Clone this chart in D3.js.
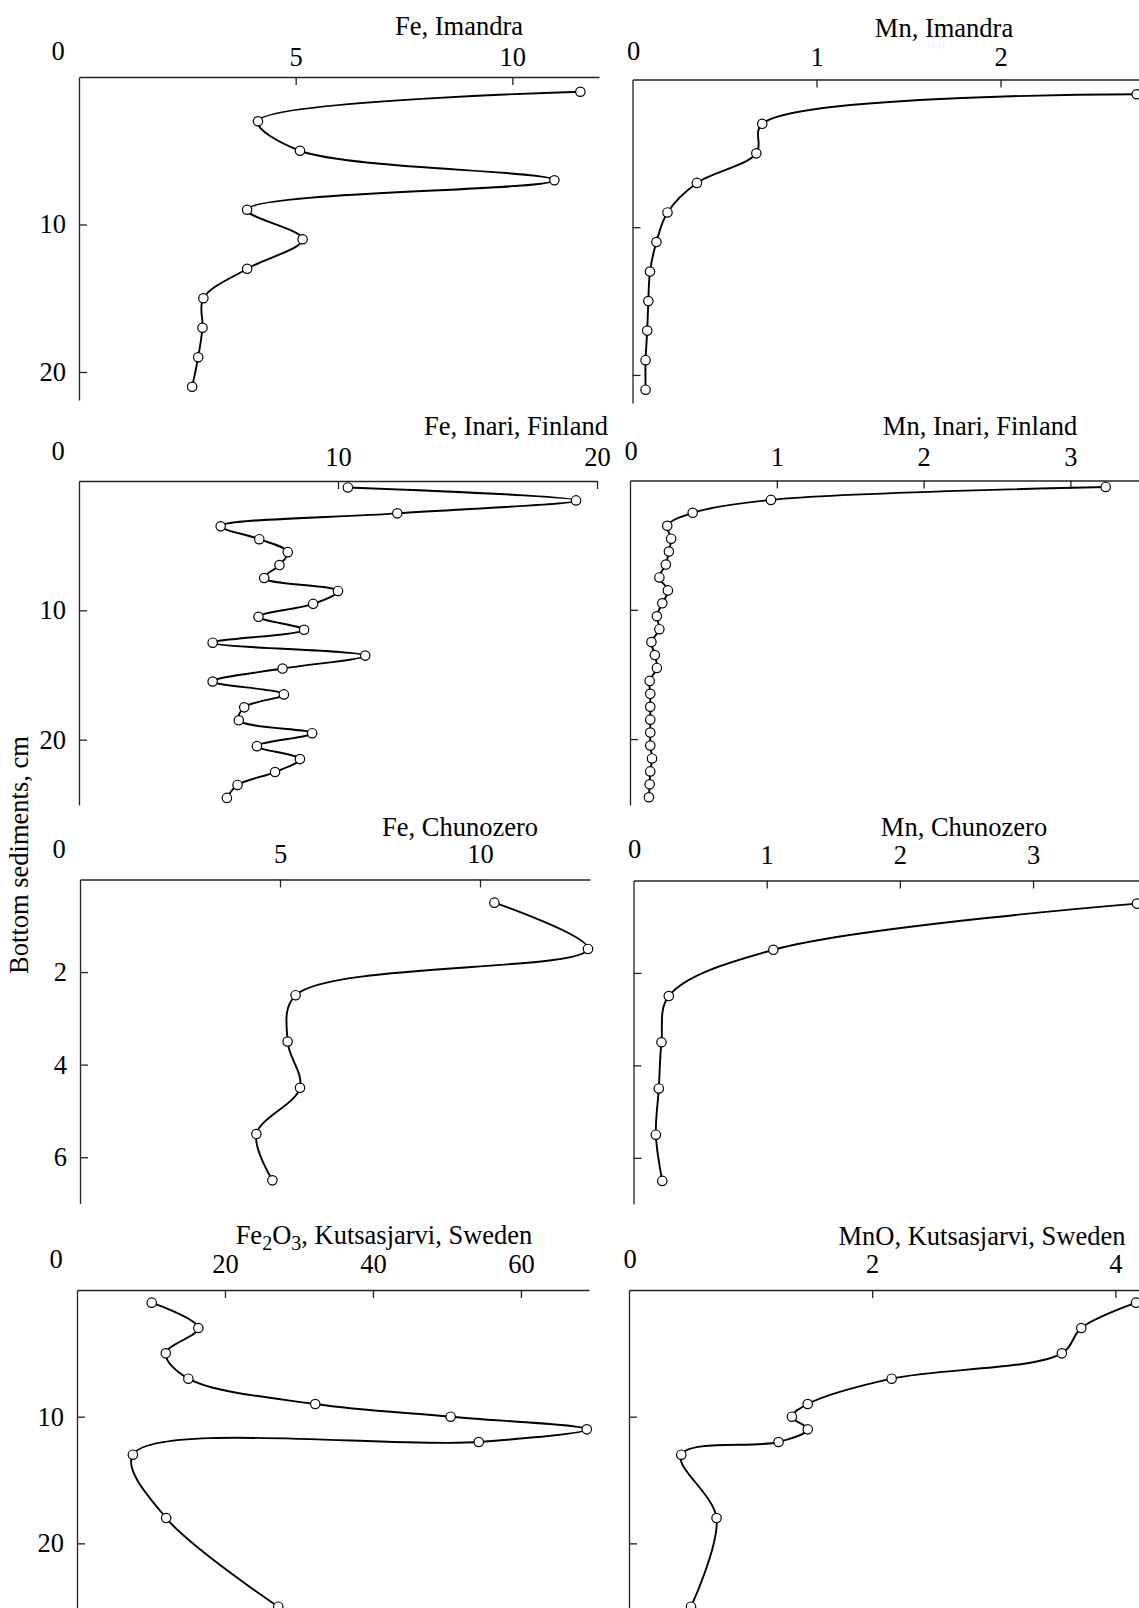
<!DOCTYPE html>
<html>
<head>
<meta charset="utf-8">
<title>Fe and Mn in bottom sediments</title>
<script src="https://cdn.jsdelivr.net/npm/d3@7"></script>
<style>
  body { margin: 0; background: #fff; }
  svg { display: block; font-family: 'Liberation Serif', 'Times New Roman', serif; }
  .axis path, .axis line { stroke: #222; stroke-width: 1.3; }
  .axis text { font-family: 'Liberation Serif', 'Times New Roman', serif; font-size: 26.5px; fill: #000; }
  .label { font-size: 26.5px; fill: #000; }
  .profile { fill: none; stroke: #000; stroke-width: 1.9; }
  .dot { fill: #fff; stroke: #000; stroke-width: 1.2; }
</style>
</head>
<body>
<script>
(function() {
  'use strict';

  // sampling depths, cm
  const imandraDepth = [1, 3, 5, 7, 9, 11, 13, 15, 17, 19, 21];
  const inariDepth = [0.5, 1.5, 2.5, 3.5, 4.5, 5.5, 6.5, 7.5, 8.5, 9.5, 10.5, 11.5,
    12.5, 13.5, 14.5, 15.5, 16.5, 17.5, 18.5, 19.5, 20.5, 21.5, 22.5, 23.5, 24.5];
  const chunozeroDepth = [0.5, 1.5, 2.5, 3.5, 4.5, 5.5, 6.5];
  const kutsasDepth = [1, 3, 5, 7, 9, 10, 11, 12, 13, 18, 25];

  // concentrations
  const feImandra = [11.57, 4.13, 5.10, 10.97, 3.88, 5.16, 3.88, 2.87, 2.85, 2.75, 2.61];
  const mnImandra = [2.74, 0.705, 0.673, 0.35, 0.19, 0.13, 0.095, 0.086, 0.08, 0.071, 0.071];
  const feInari = [10.38, 19.19, 12.29, 5.47, 6.96, 8.06, 7.74, 7.15, 10.0, 9.04, 6.93, 8.69,
    5.16, 11.05, 7.86, 5.16, 7.91, 6.38, 6.17, 9.0, 6.87, 8.53, 7.57, 6.12, 5.71];
  const mnInari = [3.24, 0.96, 0.427, 0.254, 0.28, 0.265, 0.244, 0.20, 0.258, 0.22, 0.183, 0.20,
    0.146, 0.169, 0.183, 0.134, 0.138, 0.138, 0.138, 0.138, 0.138, 0.15, 0.138, 0.134, 0.129];
  const feChunozero = [10.36, 12.70, 5.39, 5.19, 5.50, 4.41, 4.81];
  const mnChunozero = [3.78, 1.05, 0.265, 0.21, 0.19, 0.168, 0.216];
  const fe2o3Kutsas = [10.1, 16.4, 12.0, 15.05, 32.2, 50.5, 68.9, 54.3, 7.55, 12.05, 27.2];
  const mnoKutsas = [4.17, 3.72, 3.56, 2.16, 1.47, 1.34, 1.47, 1.23, 0.43, 0.72, 0.51];

  // tick labels
  const feImandraTicks = [5, 10];
  const mnImandraTicks = [1, 2];
  const feInariTicks = [10, 20];
  const mnInariTicks = [1, 2, 3];
  const feChunozeroTicks = [5, 10];
  const mnChunozeroTicks = [1, 2, 3];
  const fe2o3Ticks = [20, 40, 60];
  const mnoTicks = [2, 4];
  const depthTicks20 = [10, 20];
  const depthTicks6 = [2, 4, 6];

  const w = 1139;
  const h = 1608;

  // panel geometry in px: x range, y range, domain ends, label rows
  const layout = [
    {x: [79, 599], xMax: 12.0, y: [77, 400], yMax: 21.9, pad: 11, zeroY: 60, titleX: 459, titleY: 35, left: true},
    {x: [632.5, 1147], xMax: 2.796, y: [79.5, 403], yMax: 21.9, pad: 13.5, zeroY: 60, titleX: 944, titleY: 37, left: false},
    {x: [79, 597], xMax: 20, y: [481, 805], yMax: 25.05, pad: 15, zeroY: 460, titleX: 516, titleY: 435, left: true},
    {x: [630, 1150], xMax: 3.542, y: [480.5, 805], yMax: 25.1, pad: 15, zeroY: 460, titleX: 980, titleY: 435, left: false},
    {x: [80, 590], xMax: 12.75, y: [879.5, 1203.5], yMax: 7.0, pad: 16.5, zeroY: 858, titleX: 460, titleY: 836, left: true},
    {x: [633.5, 1150], xMax: 3.878, y: [880.5, 1204], yMax: 7.0, pad: 16.5, zeroY: 858, titleX: 964, titleY: 836, left: false},
    {x: [77, 589], xMax: 69.2, y: [1290, 1610], yMax: 25.26, pad: 17, zeroY: 1268, titleX: 384, titleY: 1244, left: true},
    {x: [629, 1150], xMax: 4.285, y: [1290, 1610], yMax: 25.26, pad: 17, zeroY: 1268, titleX: 982, titleY: 1245, left: false}
  ];

  const panels = [
    {title: 'Fe, Imandra', depth: imandraDepth, values: feImandra, ticks: feImandraTicks, depthTicks: depthTicks20},
    {title: 'Mn, Imandra', depth: imandraDepth, values: mnImandra, ticks: mnImandraTicks, depthTicks: depthTicks20},
    {title: 'Fe, Inari, Finland', depth: inariDepth, values: feInari, ticks: feInariTicks, depthTicks: depthTicks20},
    {title: 'Mn, Inari, Finland', depth: inariDepth, values: mnInari, ticks: mnInariTicks, depthTicks: depthTicks20},
    {title: 'Fe, Chunozero', depth: chunozeroDepth, values: feChunozero, ticks: feChunozeroTicks, depthTicks: depthTicks6},
    {title: 'Mn, Chunozero', depth: chunozeroDepth, values: mnChunozero, ticks: mnChunozeroTicks, depthTicks: depthTicks6},
    {title: 'Fe_2O_3, Kutsasjarvi, Sweden', depth: kutsasDepth, values: fe2o3Kutsas, ticks: fe2o3Ticks, depthTicks: depthTicks20},
    {title: 'MnO, Kutsasjarvi, Sweden', depth: kutsasDepth, values: mnoKutsas, ticks: mnoTicks, depthTicks: depthTicks20}
  ];

  const svg =
    d3.select('body')
      .append('svg')
      .attr('width', w)
      .attr('height', h);

  panels.forEach(function(p, i) {
    const L = layout[i];
    const g = svg.append('g').attr('class', 'panel');

    const xScale =
      d3.scaleLinear()
        .domain([0, L.xMax])
        .range(L.x);

    const yScale =
      d3.scaleLinear()
        .domain([0, L.yMax])
        .range(L.y);

    // value axis on top, ticks pointing inward
    const xAxis = d3.axisTop(xScale)
      .tickValues(p.ticks)
      .tickSizeInner(-8)
      .tickSizeOuter(0)
      .tickPadding(L.pad)
      .tickFormat(d3.format('d'));
    g.append('g')
      .attr('class', 'axis')
      .attr('transform', 'translate(0,' + L.y[0] + ')')
      .call(xAxis);

    // depth axis, labels only on the left column
    const yAxis = d3.axisLeft(yScale)
      .tickValues(p.depthTicks)
      .tickSizeInner(-8)
      .tickSizeOuter(0)
      .tickPadding(13)
      .tickFormat(L.left ? d3.format('d') : () => '');
    g.append('g')
      .attr('class', 'axis')
      .attr('transform', 'translate(' + L.x[0] + ',0)')
      .call(yAxis);

    // the zero label sits apart from the other ticks
    g.append('text')
      .attr('class', 'label')
      .attr('x', L.left ? xScale(0) - 21 : xScale(0) + 1)
      .attr('y', L.zeroY)
      .attr('text-anchor', 'middle')
      .text('0');

    // title, with subscripts written as _n
    const title = g.append('text')
      .attr('class', 'label')
      .attr('x', L.titleX)
      .attr('y', L.titleY)
      .attr('text-anchor', 'middle');
    const parts = p.title.split(/_(\d)/);
    parts.forEach(function(s, k) {
      if (s === '') return;
      const sub = k % 2 === 1;
      const prevSub = k > 0 && (k - 1) % 2 === 1;
      title.append('tspan')
        .attr('font-size', sub ? 20 : null)
        .attr('dy', sub ? 6 : (prevSub ? -6 : null))
        .text(s);
    });

    const points = p.values.map((v, k) => [v, p.depth[k]]);

    const line = d3.line()
      .x((d) => xScale(d[0]))
      .y((d) => yScale(d[1]))
      .curve(d3.curveCatmullRom.alpha(0.5));

    g.append('path')
      .datum(points)
      .attr('class', 'profile')
      .attr('d', line);

    g.selectAll('circle')
      .data(points)
      .enter()
      .append('circle')
      .attr('class', 'dot')
      .attr('cx', (d) => xScale(d[0]))
      .attr('cy', (d) => yScale(d[1]))
      .attr('r', 4.7);
  });

  svg.append('text')
    .attr('class', 'label')
    .attr('transform', 'translate(28,855) rotate(-90)')
    .attr('text-anchor', 'middle')
    .text('Bottom sediments, cm');
}());
</script>
</body>
</html>
